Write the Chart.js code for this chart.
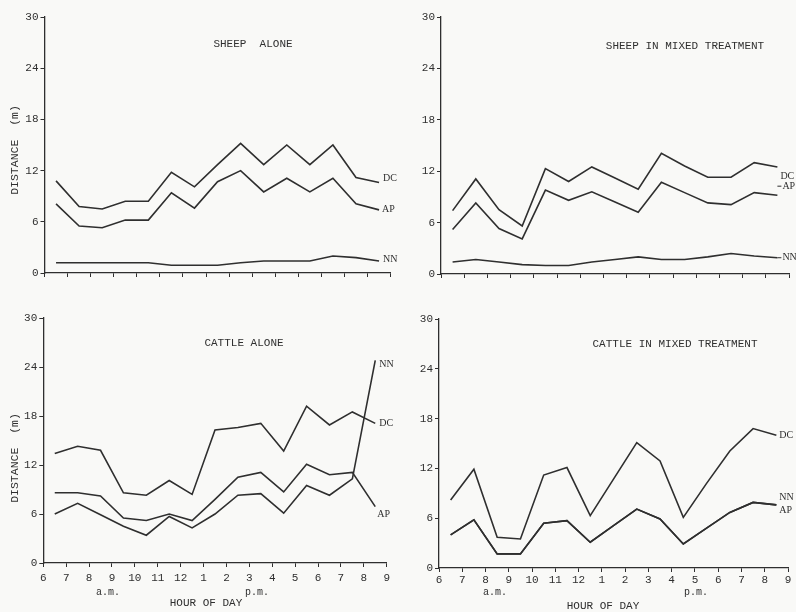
<!DOCTYPE html>
<html><head><meta charset="utf-8">
<script src="https://cdn.jsdelivr.net/npm/chart.js@4"></script>
<style>
html,body{margin:0;padding:0;background:#f9f9f7;}
#wrap{position:relative;width:796px;height:612px;overflow:hidden;background:#f9f9f7}
canvas{position:absolute;left:0;top:0}
</style></head><body>
<div id="wrap">
<canvas id="c1" width="796" height="612"></canvas>
<canvas id="c2" width="796" height="612"></canvas>
<canvas id="c3" width="796" height="612"></canvas>
<canvas id="c4" width="796" height="612"></canvas>
</div>
<script>
// Hour of observation (mid-hour, 24 h clock)
const hours = [6.5, 7.5, 8.5, 9.5, 10.5, 11.5, 12.5, 13.5, 14.5, 15.5, 16.5, 17.5, 18.5, 19.5, 20.5];
const xTickValues = [6, 7, 8, 9, 10, 11, 12, 13, 14, 15, 16, 17, 18, 19, 20, 21];
const yTickValues = [0, 6, 12, 18, 24, 30];

const sheepAloneDC = [10.8, 7.8, 7.5, 8.4, 8.4, 11.8, 10.1, 12.7, 15.2, 12.7, 15.0, 12.7, 15.0, 11.2, 10.6];
const sheepAloneAP = [8.1, 5.5, 5.3, 6.2, 6.2, 9.4, 7.6, 10.7, 12.0, 9.5, 11.1, 9.5, 11.1, 8.1, 7.4];
const sheepAloneNN = [1.2, 1.2, 1.2, 1.2, 1.2, 0.9, 0.9, 0.9, 1.2, 1.4, 1.4, 1.4, 2.0, 1.8, 1.4];

const sheepMixedDC = [7.4, 11.1, 7.5, 5.6, 12.3, 10.8, 12.5, 11.2, 9.9, 14.1, 12.6, 11.3, 11.3, 13.0, 12.5];
const sheepMixedAP = [5.2, 8.3, 5.3, 4.1, 9.8, 8.6, 9.6, 8.4, 7.2, 10.7, 9.5, 8.3, 8.1, 9.5, 9.2];
const sheepMixedNN = [1.4, 1.7, 1.4, 1.1, 1.0, 1.0, 1.4, 1.7, 2.0, 1.7, 1.7, 2.0, 2.4, 2.1, 1.9];

const cattleAloneDC = [13.4, 14.3, 13.8, 8.6, 8.3, 10.1, 8.4, 16.3, 16.6, 17.1, 13.7, 19.2, 16.9, 18.5, 17.1];
const cattleAloneAP = [8.6, 8.6, 8.2, 5.5, 5.2, 6.0, 5.2, 7.8, 10.5, 11.1, 8.7, 12.1, 10.8, 11.1, 6.9];
const cattleAloneNN = [6.0, 7.3, 5.9, 4.5, 3.4, 5.7, 4.3, 6.0, 8.3, 8.5, 6.1, 9.5, 8.3, 10.3, 24.8];

const cattleMixedDC = [8.2, 11.9, 3.7, 3.5, 11.2, 12.1, 6.3, 10.7, 15.1, 12.9, 6.1, 10.2, 14.1, 16.8, 16.0];
const cattleMixedAP = [4.0, 5.8, 1.7, 1.7, 5.4, 5.7, 3.1, 5.1, 7.1, 5.9, 2.9, 4.8, 6.7, 7.9, 7.6];
const cattleMixedNN = [4.0, 5.8, 1.7, 1.7, 5.4, 5.7, 3.1, 5.1, 7.1, 5.9, 2.9, 4.8, 6.7, 7.9, 7.6];

const INK = '#2f2f2f';
const MONO = "'Liberation Mono', 'DejaVu Sans Mono', monospace";
const SERIF = "'Liberation Serif', 'DejaVu Serif', serif";
const Y_AXIS_W = 40;
const X_AXIS_H = 25;

function hourLabel(v) { return v > 12 ? String(v - 12) : String(v); }

const annot = {
  id: 'annot',
  afterDatasetsDraw(chart, args, opts) {
    const ctx = chart.ctx;
    const xs = chart.scales.x, ys = chart.scales.y;
    ctx.save();
    ctx.fillStyle = INK;
    ctx.strokeStyle = INK;
    (opts.texts || []).forEach(t => {
      ctx.save();
      ctx.font = (t.size || 11) + 'px ' + MONO;
      ctx.textAlign = 'center';
      ctx.textBaseline = 'middle';
      ctx.translate(t.x, t.y);
      if (t.rot) ctx.rotate(t.rot);
      ctx.fillText(t.text, 0, 0);
      ctx.restore();
    });
    (opts.ends || []).forEach(e => {
      const ds = chart.data.datasets[e.ds];
      const last = ds.data[ds.data.length - 1];
      const px = xs.getPixelForValue(last.x);
      const py = ys.getPixelForValue(last.y);
      ctx.font = '10px ' + SERIF;
      ctx.textAlign = 'left';
      ctx.textBaseline = 'middle';
      if (e.lead) {
        ctx.lineWidth = 1;
        ctx.beginPath();
        ctx.moveTo(px, py + e.dy);
        ctx.lineTo(px + e.dx - 1, py + e.dy);
        ctx.stroke();
      }
      ctx.fillText(e.text, px + e.dx, py + e.dy);
    });
    ctx.restore();
  }
};

function makePanel(id, area, series, showX, xPad, annotOpts) {
  const datasets = series.map(s => ({
    label: s.name,
    data: hours.map((h, i) => ({ x: h, y: s.values[i] })),
    borderColor: INK,
    borderWidth: 1.6,
    pointRadius: 0,
    tension: 0,
    fill: false
  }));
  new Chart(document.getElementById(id), {
    type: 'line',
    data: { datasets },
    options: {
      responsive: false,
      animation: false,
      events: [],
      layout: { padding: {
        left: area.l - Y_AXIS_W, top: area.t,
        right: 796 - area.r, bottom: 612 - area.b - X_AXIS_H } },
      plugins: { legend: { display: false }, tooltip: { enabled: false }, annot: annotOpts },
      scales: {
        x: {
          type: 'linear', min: 6, max: 21,
          afterFit: s => { s.height = X_AXIS_H; },
          afterBuildTicks: s => { s.ticks = xTickValues.map(v => ({ value: v })); },
          ticks: {
            autoSkip: false, maxRotation: 0, minRotation: 0, padding: xPad,
            color: INK, font: { family: MONO, size: 11 },
            callback: v => showX ? hourLabel(v) : ''
          },
          grid: { drawOnChartArea: false, drawTicks: true, tickLength: 4, color: INK, lineWidth: 1 },
          border: { display: true, color: INK, width: 1.3 }
        },
        y: {
          type: 'linear', min: 0, max: 30,
          afterFit: s => { s.width = Y_AXIS_W; },
          afterBuildTicks: s => { s.ticks = yTickValues.map(v => ({ value: v })); },
          ticks: { padding: 2, color: INK, font: { family: MONO, size: 11 } },
          grid: { drawOnChartArea: false, drawTicks: true, tickLength: 4, color: INK, lineWidth: 1 },
          border: { display: true, color: INK, width: 1.3 }
        }
      }
    },
    plugins: [annot]
  });
}

makePanel('c1', { l: 44.5, t: 17, r: 390.6, b: 273 },
  [{ name: 'DC', values: sheepAloneDC }, { name: 'AP', values: sheepAloneAP }, { name: 'NN', values: sheepAloneNN }],
  false, 4,
  {
    texts: [
      { text: 'SHEEP  ALONE', x: 253, y: 44 },
      { text: 'DISTANCE  (m)', x: 15, y: 150, rot: -Math.PI / 2, size: 11.5 }
    ],
    ends: [
      { ds: 0, text: 'DC', dx: 4, dy: -4 },
      { ds: 1, text: 'AP', dx: 3, dy: 0 },
      { ds: 2, text: 'NN', dx: 4, dy: -2 }
    ]
  });

makePanel('c2', { l: 441, t: 17, r: 789, b: 274 },
  [{ name: 'DC', values: sheepMixedDC }, { name: 'AP', values: sheepMixedAP }, { name: 'NN', values: sheepMixedNN }],
  false, 4,
  {
    texts: [
      { text: 'SHEEP IN MIXED TREATMENT', x: 685, y: 46 }
    ],
    ends: [
      { ds: 0, text: 'DC', dx: 3, dy: 9 },
      { ds: 1, text: 'AP', dx: 5, dy: -9, lead: true },
      { ds: 2, text: 'NN', dx: 5, dy: 0, lead: true }
    ]
  });

makePanel('c3', { l: 43.3, t: 318, r: 386.7, b: 563 },
  [{ name: 'DC', values: cattleAloneDC }, { name: 'AP', values: cattleAloneAP }, { name: 'NN', values: cattleAloneNN }],
  true, 4,
  {
    texts: [
      { text: 'CATTLE ALONE', x: 244, y: 343 },
      { text: 'DISTANCE  (m)', x: 15, y: 458, rot: -Math.PI / 2, size: 11.5 },
      { text: 'a.m.', x: 108, y: 592, size: 10 },
      { text: 'p.m.', x: 257, y: 592, size: 10 },
      { text: 'HOUR OF DAY', x: 206, y: 603, size: 11 }
    ],
    ends: [
      { ds: 0, text: 'DC', dx: 4, dy: 0 },
      { ds: 1, text: 'AP', dx: 2, dy: 8 },
      { ds: 2, text: 'NN', dx: 4, dy: 4 }
    ]
  });

makePanel('c4', { l: 439, t: 319, r: 788, b: 568 },
  [{ name: 'DC', values: cattleMixedDC }, { name: 'AP', values: cattleMixedAP }, { name: 'NN', values: cattleMixedNN }],
  true, 1,
  {
    texts: [
      { text: 'CATTLE IN MIXED TREATMENT', x: 675, y: 344 },
      { text: 'a.m.', x: 495, y: 592, size: 10 },
      { text: 'p.m.', x: 696, y: 592, size: 10 },
      { text: 'HOUR OF DAY', x: 603, y: 606, size: 11 }
    ],
    ends: [
      { ds: 0, text: 'DC', dx: 3, dy: 0 },
      { ds: 1, text: 'AP', dx: 3, dy: 5 },
      { ds: 2, text: 'NN', dx: 3, dy: -8 }
    ]
  });
</script>
</body></html>
